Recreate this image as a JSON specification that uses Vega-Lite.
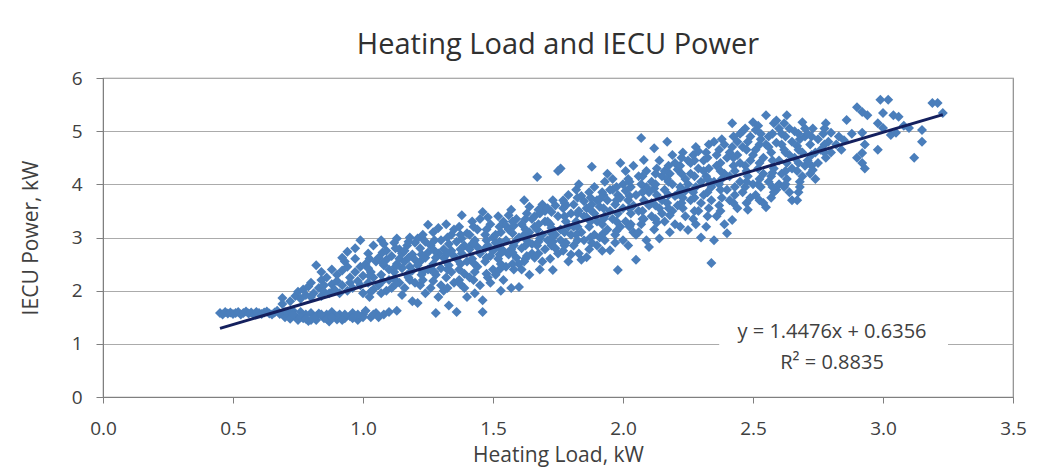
{
  "$schema": "https://vega.github.io/schema/vega-lite/v6.json",
  "autosize": {"type": "none"},
  "width": 910,
  "height": 319,
  "padding": {"left": 103, "top": 78, "right": 24, "bottom": 77},
  "background": "white",
  "config": {
    "font": "Open Sans",
    "view": {"stroke": "#8c8c8c", "strokeWidth": 1.2},
    "axis": {
      "labelFont": "Open Sans",
      "titleFont": "Open Sans",
      "labelFontSize": 19,
      "titleFontSize": 21,
      "labelColor": "#404040",
      "titleColor": "#404040",
      "titleFontWeight": "normal",
      "domainColor": "#7f7f7f",
      "tickColor": "#7f7f7f",
      "gridColor": "#ababab",
      "gridOpacity": 1,
      "labelFlush": false,
      "zindex": 0
    }
  },
  "title": {
    "text": "Heating Load and IECU Power",
    "fontSize": 29,
    "fontWeight": "normal",
    "color": "#303030",
    "font": "Open Sans",
    "anchor": "middle",
    "offset": 9
  },
  "layer": [
    {
      "data": {"values": [
{"x":0.45,"y":1.58},{"x":0.46,"y":1.55},{"x":0.47,"y":1.60},{"x":0.48,"y":1.57},{"x":0.49,"y":1.59},{"x":0.50,"y":1.56},
{"x":0.51,"y":1.58},{"x":0.52,"y":1.60},{"x":0.53,"y":1.55},{"x":0.54,"y":1.58},{"x":0.55,"y":1.61},
{"x":0.56,"y":1.57},{"x":0.57,"y":1.59},{"x":0.58,"y":1.55},{"x":0.59,"y":1.60},{"x":0.60,"y":1.58},
{"x":0.61,"y":1.56},{"x":0.62,"y":1.59},{"x":0.63,"y":1.61},{"x":0.64,"y":1.57},{"x":0.65,"y":1.55},
{"x":0.66,"y":1.59},{"x":0.67,"y":1.62},{"x":0.68,"y":1.56},{"x":0.69,"y":1.86},{"x":0.70,"y":1.60},{"x":0.70,"y":1.50},{"x":0.69,"y":1.75},
{"x":0.71,"y":1.58},{"x":0.72,"y":1.47},{"x":0.72,"y":1.80},{"x":0.73,"y":1.62},{"x":0.74,"y":1.52},{"x":0.74,"y":1.90},{"x":0.75,"y":1.45},{"x":0.75,"y":1.98},{"x":0.73,"y":1.55},
{"x":0.76,"y":1.60},{"x":0.76,"y":1.85},{"x":0.77,"y":1.48},{"x":0.77,"y":2.02},{"x":0.78,"y":1.55},{"x":0.78,"y":1.92},{"x":0.79,"y":1.43},{"x":0.79,"y":2.08},{"x":0.80,"y":1.58},{"x":0.80,"y":1.88},{"x":0.80,"y":2.15},
{"x":0.81,"y":1.50},{"x":0.81,"y":1.95},{"x":0.82,"y":2.48},{"x":0.82,"y":1.45},{"x":0.83,"y":2.05},{"x":0.83,"y":1.57},{"x":0.84,"y":1.90},{"x":0.84,"y":2.20},{"x":0.85,"y":1.48},{"x":0.85,"y":2.10},{"x":0.85,"y":1.98},{"x":0.84,"y":2.35},
{"x":0.86,"y":1.55},{"x":0.86,"y":2.25},{"x":0.87,"y":1.95},{"x":0.87,"y":1.42},{"x":0.88,"y":2.12},{"x":0.88,"y":2.40},{"x":0.89,"y":1.52},{"x":0.89,"y":2.02},{"x":0.90,"y":2.30},{"x":0.90,"y":1.46},{"x":0.90,"y":2.18},{"x":0.88,"y":1.60},
{"x":0.91,"y":1.95},{"x":0.91,"y":1.55},{"x":0.92,"y":2.38},{"x":0.92,"y":2.10},{"x":0.93,"y":1.48},{"x":0.93,"y":2.55},{"x":0.94,"y":2.73},{"x":0.94,"y":2.00},{"x":0.95,"y":2.25},{"x":0.95,"y":1.52},{"x":0.92,"y":2.62},{"x":0.94,"y":2.45},{"x":0.95,"y":2.15},
{"x":0.96,"y":1.58},{"x":0.96,"y":2.05},{"x":0.97,"y":2.35},{"x":0.97,"y":2.60},{"x":0.98,"y":1.45},{"x":0.98,"y":2.18},{"x":0.99,"y":2.95},{"x":0.99,"y":2.45},{"x":1.00,"y":1.95},{"x":1.00,"y":2.28},{"x":1.00,"y":1.55},{"x":0.97,"y":2.80},{"x":0.99,"y":2.10},
{"x":1.01,"y":2.50},{"x":1.01,"y":1.62},{"x":1.02,"y":2.15},{"x":1.02,"y":2.70},{"x":1.03,"y":1.50},{"x":1.03,"y":2.35},{"x":1.04,"y":2.02},{"x":1.04,"y":2.85},{"x":1.05,"y":2.55},{"x":1.05,"y":1.58},{"x":1.02,"y":2.42},{"x":1.04,"y":2.25},{"x":1.03,"y":1.98},
{"x":1.06,"y":2.10},{"x":1.06,"y":2.62},{"x":1.07,"y":2.95},{"x":1.07,"y":2.30},{"x":1.08,"y":1.55},{"x":1.08,"y":2.48},{"x":1.09,"y":2.00},{"x":1.09,"y":2.75},{"x":1.10,"y":2.40},{"x":1.10,"y":1.60},{"x":1.10,"y":2.20},{"x":1.08,"y":2.88},{"x":1.07,"y":1.95},{"x":1.09,"y":2.58},
{"x":1.11,"y":2.65},{"x":1.11,"y":2.05},{"x":1.12,"y":2.35},{"x":1.12,"y":2.90},{"x":1.13,"y":1.62},{"x":1.13,"y":2.50},{"x":1.14,"y":2.15},{"x":1.14,"y":2.78},{"x":1.15,"y":2.42},{"x":1.15,"y":1.92},{"x":1.12,"y":2.22},{"x":1.14,"y":2.60},{"x":1.13,"y":2.98},{"x":1.15,"y":2.70},
{"x":1.16,"y":2.55},{"x":1.16,"y":2.05},{"x":1.17,"y":2.85},{"x":1.17,"y":2.30},{"x":1.18,"y":3.00},{"x":1.18,"y":2.45},{"x":1.19,"y":1.80},{"x":1.19,"y":2.68},{"x":1.20,"y":2.15},{"x":1.20,"y":2.90},{"x":1.18,"y":2.20},{"x":1.16,"y":2.75},{"x":1.19,"y":2.38},{"x":1.20,"y":2.58},
{"x":1.21,"y":1.77},{"x":1.21,"y":2.48},{"x":1.22,"y":2.80},{"x":1.22,"y":2.10},{"x":1.23,"y":3.05},{"x":1.23,"y":2.35},{"x":1.24,"y":2.62},{"x":1.24,"y":1.95},{"x":1.25,"y":3.24},{"x":1.25,"y":2.72},{"x":1.22,"y":2.55},{"x":1.24,"y":2.92},{"x":1.23,"y":2.20},{"x":1.25,"y":2.40},{"x":1.21,"y":2.98},
{"x":1.26,"y":2.05},{"x":1.26,"y":2.85},{"x":1.27,"y":2.50},{"x":1.27,"y":3.10},{"x":1.28,"y":1.58},{"x":1.28,"y":2.30},{"x":1.29,"y":2.70},{"x":1.29,"y":1.88},{"x":1.30,"y":2.95},{"x":1.30,"y":2.42},{"x":1.27,"y":2.18},{"x":1.28,"y":2.62},{"x":1.29,"y":3.18},{"x":1.30,"y":2.10},{"x":1.26,"y":2.40},
{"x":1.31,"y":2.78},{"x":1.31,"y":2.00},{"x":1.32,"y":3.25},{"x":1.32,"y":2.55},{"x":1.33,"y":1.72},{"x":1.33,"y":2.88},{"x":1.34,"y":2.35},{"x":1.34,"y":3.05},{"x":1.35,"y":2.65},{"x":1.35,"y":2.15},{"x":1.32,"y":2.25},{"x":1.33,"y":2.48},{"x":1.34,"y":2.75},{"x":1.35,"y":3.15},{"x":1.31,"y":2.62},
{"x":1.36,"y":1.60},{"x":1.36,"y":2.92},{"x":1.37,"y":2.40},{"x":1.37,"y":3.20},{"x":1.38,"y":3.42},{"x":1.38,"y":2.70},{"x":1.39,"y":2.05},{"x":1.39,"y":2.85},{"x":1.40,"y":2.55},{"x":1.40,"y":3.08},{"x":1.37,"y":2.20},{"x":1.38,"y":2.98},{"x":1.39,"y":2.32},{"x":1.40,"y":1.88},{"x":1.36,"y":2.60},
{"x":1.41,"y":2.78},{"x":1.41,"y":2.25},{"x":1.42,"y":3.30},{"x":1.42,"y":2.60},{"x":1.43,"y":1.95},{"x":1.43,"y":2.95},{"x":1.44,"y":2.45},{"x":1.44,"y":3.15},{"x":1.45,"y":2.70},{"x":1.45,"y":2.10},{"x":1.42,"y":2.88},{"x":1.43,"y":2.35},{"x":1.44,"y":2.82},{"x":1.45,"y":3.35},{"x":1.41,"y":3.05},
{"x":1.46,"y":1.60},{"x":1.46,"y":1.82},{"x":1.46,"y":3.48},{"x":1.47,"y":2.55},{"x":1.47,"y":3.05},{"x":1.48,"y":2.25},{"x":1.48,"y":2.85},{"x":1.49,"y":3.25},{"x":1.49,"y":2.65},{"x":1.50,"y":2.40},{"x":1.50,"y":3.00},{"x":1.47,"y":2.80},{"x":1.48,"y":3.38},{"x":1.49,"y":2.15},{"x":1.50,"y":2.75},
{"x":1.51,"y":2.90},{"x":1.51,"y":2.30},{"x":1.52,"y":3.40},{"x":1.52,"y":2.60},{"x":1.53,"y":2.00},{"x":1.53,"y":3.10},{"x":1.54,"y":2.75},{"x":1.54,"y":3.30},{"x":1.55,"y":2.45},{"x":1.55,"y":2.95},{"x":1.52,"y":2.82},{"x":1.53,"y":2.50},{"x":1.54,"y":2.20},{"x":1.55,"y":3.22},{"x":1.51,"y":3.05},
{"x":1.56,"y":2.68},{"x":1.56,"y":3.15},{"x":1.57,"y":3.52},{"x":1.57,"y":2.05},{"x":1.58,"y":2.85},{"x":1.58,"y":2.40},{"x":1.59,"y":3.35},{"x":1.59,"y":2.62},{"x":1.60,"y":2.07},{"x":1.60,"y":3.00},{"x":1.57,"y":2.78},{"x":1.58,"y":3.22},{"x":1.59,"y":2.95},{"x":1.60,"y":2.50},{"x":1.56,"y":3.42},
{"x":1.61,"y":2.80},{"x":1.61,"y":3.25},{"x":1.62,"y":3.70},{"x":1.62,"y":2.55},{"x":1.63,"y":2.95},{"x":1.63,"y":3.45},{"x":1.64,"y":2.30},{"x":1.64,"y":3.10},{"x":1.65,"y":2.70},{"x":1.65,"y":3.35},{"x":1.62,"y":3.05},{"x":1.63,"y":2.65},{"x":1.64,"y":3.58},{"x":1.65,"y":2.88},{"x":1.61,"y":2.40},
{"x":1.66,"y":3.20},{"x":1.66,"y":2.62},{"x":1.67,"y":4.14},{"x":1.67,"y":2.85},{"x":1.68,"y":3.45},{"x":1.68,"y":2.40},{"x":1.69,"y":3.05},{"x":1.69,"y":3.62},{"x":1.70,"y":2.78},{"x":1.70,"y":3.30},{"x":1.67,"y":3.15},{"x":1.68,"y":2.98},{"x":1.69,"y":2.55},{"x":1.70,"y":3.50},{"x":1.66,"y":3.40},
{"x":1.71,"y":2.95},{"x":1.71,"y":3.55},{"x":1.72,"y":2.60},{"x":1.72,"y":3.25},{"x":1.73,"y":2.39},{"x":1.73,"y":3.70},{"x":1.74,"y":3.05},{"x":1.74,"y":2.80},{"x":1.75,"y":3.40},{"x":1.75,"y":4.25},{"x":1.72,"y":3.10},{"x":1.73,"y":2.92},{"x":1.74,"y":3.60},{"x":1.75,"y":2.70},{"x":1.71,"y":3.30},
{"x":1.76,"y":4.30},{"x":1.76,"y":3.15},{"x":1.77,"y":2.75},{"x":1.77,"y":3.55},{"x":1.78,"y":3.30},{"x":1.78,"y":2.90},{"x":1.79,"y":3.80},{"x":1.79,"y":2.55},{"x":1.80,"y":3.45},{"x":1.80,"y":3.05},{"x":1.77,"y":3.70},{"x":1.78,"y":3.60},{"x":1.79,"y":3.20},{"x":1.80,"y":2.68},{"x":1.76,"y":2.95},
{"x":1.81,"y":3.62},{"x":1.81,"y":2.85},{"x":1.82,"y":3.30},{"x":1.82,"y":3.90},{"x":1.83,"y":2.70},{"x":1.83,"y":3.50},{"x":1.84,"y":3.10},{"x":1.84,"y":3.78},{"x":1.85,"y":2.95},{"x":1.85,"y":3.40},{"x":1.82,"y":3.05},{"x":1.83,"y":4.00},{"x":1.84,"y":2.58},{"x":1.85,"y":3.68},{"x":1.81,"y":3.20},
{"x":1.86,"y":2.63},{"x":1.86,"y":3.55},{"x":1.87,"y":3.20},{"x":1.87,"y":3.85},{"x":1.88,"y":4.33},{"x":1.88,"y":2.90},{"x":1.89,"y":3.45},{"x":1.89,"y":3.05},{"x":1.90,"y":3.70},{"x":1.90,"y":3.30},{"x":1.87,"y":2.78},{"x":1.88,"y":3.62},{"x":1.89,"y":3.95},{"x":1.90,"y":2.85},{"x":1.86,"y":3.38},
{"x":1.91,"y":3.58},{"x":1.91,"y":3.00},{"x":1.92,"y":3.85},{"x":1.92,"y":2.75},{"x":1.93,"y":3.40},{"x":1.93,"y":4.05},{"x":1.94,"y":3.15},{"x":1.94,"y":3.70},{"x":1.95,"y":2.76},{"x":1.95,"y":3.50},{"x":1.92,"y":3.25},{"x":1.93,"y":2.95},{"x":1.94,"y":4.20},{"x":1.95,"y":3.90},{"x":1.91,"y":3.72},
{"x":1.96,"y":3.35},{"x":1.96,"y":4.10},{"x":1.97,"y":2.90},{"x":1.97,"y":3.62},{"x":1.98,"y":2.39},{"x":1.98,"y":3.80},{"x":1.99,"y":4.40},{"x":1.99,"y":3.20},{"x":2.00,"y":3.55},{"x":2.00,"y":4.00},{"x":1.97,"y":3.05},{"x":1.98,"y":3.45},{"x":1.99,"y":3.75},{"x":2.00,"y":2.95},{"x":1.96,"y":3.90},
{"x":2.01,"y":3.30},{"x":2.01,"y":4.25},{"x":2.02,"y":3.70},{"x":2.02,"y":2.85},{"x":2.03,"y":3.95},{"x":2.03,"y":3.45},{"x":2.04,"y":3.10},{"x":2.04,"y":4.35},{"x":2.05,"y":2.58},{"x":2.05,"y":3.80},{"x":2.02,"y":4.10},{"x":2.03,"y":3.25},{"x":2.04,"y":3.60},{"x":2.05,"y":3.05},{"x":2.01,"y":3.88},
{"x":2.06,"y":3.50},{"x":2.06,"y":4.15},{"x":2.07,"y":4.87},{"x":2.07,"y":3.25},{"x":2.08,"y":4.46},{"x":2.08,"y":3.70},{"x":2.09,"y":2.95},{"x":2.09,"y":3.95},{"x":2.10,"y":2.82},{"x":2.10,"y":3.60},{"x":2.07,"y":4.00},{"x":2.08,"y":3.35},{"x":2.09,"y":4.25},{"x":2.10,"y":3.85},{"x":2.06,"y":3.10},
{"x":2.11,"y":3.40},{"x":2.11,"y":4.05},{"x":2.12,"y":4.68},{"x":2.12,"y":3.15},{"x":2.13,"y":3.80},{"x":2.13,"y":4.30},{"x":2.14,"y":3.55},{"x":2.14,"y":2.98},{"x":2.15,"y":4.15},{"x":2.15,"y":3.70},{"x":2.12,"y":3.92},{"x":2.13,"y":3.28},{"x":2.14,"y":4.45},{"x":2.15,"y":3.45},{"x":2.11,"y":3.65},
{"x":2.16,"y":3.90},{"x":2.16,"y":3.30},{"x":2.17,"y":4.80},{"x":2.17,"y":3.65},{"x":2.18,"y":4.20},{"x":2.18,"y":3.10},{"x":2.19,"y":4.00},{"x":2.19,"y":3.50},{"x":2.20,"y":4.40},{"x":2.20,"y":3.78},{"x":2.17,"y":4.10},{"x":2.18,"y":3.42},{"x":2.19,"y":4.55},{"x":2.20,"y":3.25},{"x":2.16,"y":4.25},
{"x":2.21,"y":3.60},{"x":2.21,"y":4.28},{"x":2.22,"y":3.95},{"x":2.22,"y":3.20},{"x":2.23,"y":4.60},{"x":2.23,"y":3.75},{"x":2.24,"y":4.10},{"x":2.24,"y":3.40},{"x":2.25,"y":3.14},{"x":2.25,"y":4.45},{"x":2.22,"y":4.35},{"x":2.23,"y":3.55},{"x":2.24,"y":3.88},{"x":2.25,"y":4.00},{"x":2.21,"y":3.82},
{"x":2.26,"y":3.70},{"x":2.26,"y":4.20},{"x":2.27,"y":3.35},{"x":2.27,"y":4.55},{"x":2.28,"y":3.95},{"x":2.28,"y":4.70},{"x":2.29,"y":3.50},{"x":2.29,"y":4.30},{"x":2.30,"y":3.00},{"x":2.30,"y":4.05},{"x":2.27,"y":3.85},{"x":2.28,"y":3.25},{"x":2.29,"y":4.62},{"x":2.30,"y":3.65},{"x":2.26,"y":4.40},
{"x":2.31,"y":3.80},{"x":2.31,"y":4.45},{"x":2.32,"y":3.20},{"x":2.32,"y":4.15},{"x":2.33,"y":4.75},{"x":2.33,"y":3.55},{"x":2.34,"y":2.52},{"x":2.34,"y":3.95},{"x":2.35,"y":2.95},{"x":2.35,"y":4.80},{"x":2.32,"y":4.60},{"x":2.33,"y":4.30},{"x":2.34,"y":3.70},{"x":2.35,"y":4.05},{"x":2.31,"y":4.25},
{"x":2.36,"y":3.40},{"x":2.36,"y":4.35},{"x":2.37,"y":4.00},{"x":2.37,"y":4.65},{"x":2.38,"y":3.75},{"x":2.38,"y":4.85},{"x":2.39,"y":3.25},{"x":2.39,"y":4.20},{"x":2.40,"y":3.08},{"x":2.40,"y":4.50},{"x":2.37,"y":3.60},{"x":2.38,"y":4.10},{"x":2.39,"y":4.75},{"x":2.40,"y":3.90},{"x":2.36,"y":4.55},
{"x":2.41,"y":3.70},{"x":2.41,"y":4.60},{"x":2.42,"y":3.33},{"x":2.42,"y":5.15},{"x":2.43,"y":4.25},{"x":2.43,"y":3.95},{"x":2.44,"y":4.80},{"x":2.44,"y":3.55},{"x":2.45,"y":4.40},{"x":2.45,"y":4.05},{"x":2.42,"y":4.70},{"x":2.43,"y":3.80},{"x":2.44,"y":4.55},{"x":2.45,"y":4.95},{"x":2.41,"y":4.15},
{"x":2.46,"y":3.85},{"x":2.46,"y":4.70},{"x":2.47,"y":4.35},{"x":2.47,"y":5.05},{"x":2.48,"y":3.52},{"x":2.48,"y":4.15},{"x":2.49,"y":4.90},{"x":2.49,"y":3.75},{"x":2.50,"y":5.17},{"x":2.50,"y":4.55},{"x":2.47,"y":3.95},{"x":2.48,"y":4.80},{"x":2.49,"y":4.45},{"x":2.50,"y":4.00},{"x":2.46,"y":5.00},
{"x":2.51,"y":3.80},{"x":2.51,"y":4.65},{"x":2.52,"y":4.30},{"x":2.52,"y":5.10},{"x":2.53,"y":3.95},{"x":2.53,"y":4.85},{"x":2.54,"y":3.65},{"x":2.54,"y":4.50},{"x":2.55,"y":5.30},{"x":2.55,"y":3.57},{"x":2.52,"y":4.00},{"x":2.53,"y":4.95},{"x":2.54,"y":4.20},{"x":2.55,"y":4.75},{"x":2.51,"y":5.02},
{"x":2.56,"y":4.05},{"x":2.56,"y":4.90},{"x":2.57,"y":3.75},{"x":2.57,"y":4.60},{"x":2.58,"y":5.15},{"x":2.58,"y":4.30},{"x":2.59,"y":3.90},{"x":2.59,"y":4.78},{"x":2.60,"y":4.45},{"x":2.60,"y":5.05},{"x":2.57,"y":4.15},{"x":2.58,"y":3.85},{"x":2.59,"y":5.20},{"x":2.60,"y":4.00},{"x":2.56,"y":4.70},
{"x":2.61,"y":4.20},{"x":2.61,"y":4.95},{"x":2.62,"y":3.95},{"x":2.62,"y":4.65},{"x":2.63,"y":5.30},{"x":2.63,"y":4.40},{"x":2.64,"y":3.85},{"x":2.64,"y":5.05},{"x":2.65,"y":3.70},{"x":2.65,"y":4.80},{"x":2.62,"y":5.15},{"x":2.63,"y":4.10},{"x":2.64,"y":4.55},{"x":2.65,"y":4.30},{"x":2.61,"y":4.75},
{"x":2.66,"y":4.50},{"x":2.66,"y":5.00},{"x":2.67,"y":3.70},{"x":2.67,"y":4.25},{"x":2.68,"y":4.85},{"x":2.68,"y":4.05},{"x":2.69,"y":5.17},{"x":2.69,"y":4.60},{"x":2.70,"y":4.35},{"x":2.70,"y":4.90},{"x":2.67,"y":4.72},{"x":2.68,"y":3.95},{"x":2.69,"y":4.15},{"x":2.70,"y":5.05},
{"x":2.71,"y":4.45},{"x":2.71,"y":4.95},{"x":2.72,"y":4.20},{"x":2.72,"y":4.75},{"x":2.73,"y":4.27},{"x":2.73,"y":5.05},{"x":2.74,"y":4.60},{"x":2.74,"y":4.10},{"x":2.75,"y":4.85},{"x":2.75,"y":4.40},
{"x":2.76,"y":4.65},{"x":2.77,"y":4.95},{"x":2.78,"y":5.15},{"x":2.78,"y":4.50},{"x":2.79,"y":4.80},{"x":2.80,"y":4.97},{"x":2.80,"y":4.60},
{"x":2.82,"y":4.75},{"x":2.83,"y":4.90},{"x":2.85,"y":4.83},{"x":2.84,"y":4.65},
{"x":2.86,"y":5.21},{"x":2.88,"y":4.95},{"x":2.90,"y":5.45},{"x":2.90,"y":4.50},
{"x":2.92,"y":5.36},{"x":2.92,"y":4.97},{"x":2.92,"y":4.59},{"x":2.92,"y":4.40},{"x":2.93,"y":4.30},{"x":2.94,"y":5.30},{"x":2.93,"y":4.75},
{"x":2.98,"y":5.15},{"x":2.98,"y":4.65},{"x":2.99,"y":5.59},{"x":3.00,"y":5.34},{"x":3.00,"y":5.06},
{"x":3.02,"y":5.59},{"x":3.03,"y":4.93},{"x":3.04,"y":5.30},{"x":3.05,"y":4.97},
{"x":3.06,"y":5.27},{"x":3.08,"y":5.10},{"x":3.10,"y":5.06},
{"x":3.12,"y":4.50},{"x":3.15,"y":5.02},{"x":3.15,"y":4.80},{"x":3.19,"y":5.53},{"x":3.21,"y":5.53},{"x":3.23,"y":5.34},
{"x":0.76,"y":1.50},{"x":0.78,"y":1.47},{"x":0.82,"y":1.52},{"x":0.86,"y":1.47},{"x":0.90,"y":1.52},{"x":0.93,"y":1.55},{"x":0.96,"y":1.48},{"x":1.00,"y":1.50},{"x":1.04,"y":1.55},{"x":1.06,"y":1.50},{"x":0.80,"y":1.45},{"x":0.84,"y":1.55},{"x":0.88,"y":1.50},{"x":0.92,"y":1.45},{"x":0.98,"y":1.55},
{"x":1.025,"y":2.60},{"x":1.025,"y":2.28},{"x":1.025,"y":1.88},
{"x":1.075,"y":2.72},{"x":1.075,"y":2.18},{"x":1.075,"y":2.52},
{"x":1.125,"y":2.80},{"x":1.125,"y":2.45},{"x":1.125,"y":2.12},
{"x":1.175,"y":2.92},{"x":1.175,"y":2.62},{"x":1.175,"y":2.25},
{"x":1.225,"y":2.68},{"x":1.225,"y":2.30},{"x":1.225,"y":3.00},
{"x":1.275,"y":2.95},{"x":1.275,"y":2.75},{"x":1.275,"y":2.35},
{"x":1.325,"y":3.00},{"x":1.325,"y":2.70},{"x":1.325,"y":2.40},{"x":1.325,"y":2.05},
{"x":1.375,"y":3.05},{"x":1.375,"y":2.78},{"x":1.375,"y":2.50},{"x":1.375,"y":2.12},
{"x":1.425,"y":3.20},{"x":1.425,"y":2.90},{"x":1.425,"y":2.52},{"x":1.425,"y":2.20},
{"x":1.475,"y":3.15},{"x":1.475,"y":2.95},{"x":1.475,"y":2.62},{"x":1.475,"y":2.32},
{"x":1.525,"y":3.20},{"x":1.525,"y":2.92},{"x":1.525,"y":2.68},{"x":1.525,"y":2.40},
{"x":1.575,"y":3.30},{"x":1.575,"y":3.08},{"x":1.575,"y":2.72},{"x":1.575,"y":2.50},
{"x":1.625,"y":3.35},{"x":1.625,"y":3.15},{"x":1.625,"y":2.85},{"x":1.625,"y":2.60},
{"x":1.675,"y":3.52},{"x":1.675,"y":3.25},{"x":1.675,"y":2.92},{"x":1.675,"y":2.70},
{"x":1.725,"y":3.48},{"x":1.725,"y":3.18},{"x":1.725,"y":2.98},{"x":1.725,"y":2.85},
{"x":1.775,"y":3.65},{"x":1.775,"y":3.40},{"x":1.775,"y":3.10},{"x":1.775,"y":2.85},
{"x":1.825,"y":3.75},{"x":1.825,"y":3.45},{"x":1.825,"y":3.20},{"x":1.825,"y":2.95},
{"x":1.875,"y":3.75},{"x":1.875,"y":3.52},{"x":1.875,"y":3.30},{"x":1.875,"y":3.00},
{"x":1.925,"y":3.80},{"x":1.925,"y":3.55},{"x":1.925,"y":3.35},{"x":1.925,"y":3.08},
{"x":1.975,"y":3.95},{"x":1.975,"y":3.70},{"x":1.975,"y":3.30},{"x":1.975,"y":3.12},
{"x":2.025,"y":4.05},{"x":2.025,"y":3.78},{"x":2.025,"y":3.55},{"x":2.025,"y":3.20},
{"x":2.075,"y":4.15},{"x":2.075,"y":3.85},{"x":2.075,"y":3.50},{"x":2.075,"y":3.35},
{"x":2.125,"y":4.20},{"x":2.125,"y":4.00},{"x":2.125,"y":3.60},{"x":2.125,"y":3.35},
{"x":2.175,"y":4.35},{"x":2.175,"y":4.05},{"x":2.175,"y":3.80},{"x":2.175,"y":3.55},
{"x":2.225,"y":4.50},{"x":2.225,"y":4.20},{"x":2.225,"y":3.90},{"x":2.225,"y":3.65},
{"x":2.275,"y":4.45},{"x":2.275,"y":4.15},{"x":2.275,"y":3.75},{"x":2.275,"y":3.50},
{"x":2.325,"y":4.50},{"x":2.325,"y":4.10},{"x":2.325,"y":3.85},{"x":2.325,"y":3.40},
{"x":2.375,"y":4.40},{"x":2.375,"y":4.25},{"x":2.375,"y":3.90},{"x":2.375,"y":3.50},
{"x":2.425,"y":4.90},{"x":2.425,"y":4.50},{"x":2.425,"y":4.35},{"x":2.425,"y":3.65},
{"x":2.475,"y":4.65},{"x":2.475,"y":4.25},{"x":2.475,"y":4.05},{"x":2.475,"y":3.65},
{"x":2.525,"y":4.75},{"x":2.525,"y":4.40},{"x":2.525,"y":4.10},{"x":2.525,"y":3.70},
{"x":2.575,"y":4.95},{"x":2.575,"y":4.45},{"x":2.575,"y":4.22},{"x":2.575,"y":3.95},
{"x":2.625,"y":4.90},{"x":2.625,"y":4.60},{"x":2.625,"y":4.25},{"x":2.625,"y":4.00},
{"x":2.675,"y":4.95},{"x":2.675,"y":4.65},{"x":2.675,"y":4.40},{"x":2.675,"y":3.85},
{"x":2.725,"y":4.90},{"x":2.725,"y":4.55},{"x":2.725,"y":4.35},
{"x":2.775,"y":4.75},{"x":2.775,"y":4.60},{"x":2.775,"y":5.05}
      ]},
      "mark": {"type": "point", "shape": "diamond", "filled": true, "size": 100, "color": "#4a7ebb", "opacity": 1},
      "encoding": {
        "x": {"field": "x", "type": "quantitative", "scale": {"domain": [0, 3.5]},
              "axis": {"title": "Heating Load, kW", "values": [0, 0.5, 1, 1.5, 2, 2.5, 3, 3.5], "format": ".1f", "grid": false, "ticks": true, "tickSize": 6, "labelPadding": 16, "titlePadding": 6}},
        "y": {"field": "y", "type": "quantitative", "scale": {"domain": [0, 6]},
              "axis": {"title": "IECU Power, kW", "values": [0, 1, 2, 3, 4, 5, 6], "format": "d", "grid": true, "ticks": true, "tickSize": 7, "labelPadding": 14, "titlePadding": 30}}
      }
    },
    {
      "data": {"values": [{"x": 0.45, "y": 1.29}, {"x": 3.23, "y": 5.31}]},
      "mark": {"type": "line", "color": "#14205e", "strokeWidth": 3},
      "encoding": {
        "x": {"field": "x", "type": "quantitative"},
        "y": {"field": "y", "type": "quantitative"}
      }
    },
    {
      "data": {"values": [{"label": "box"}]},
      "mark": {"type": "rect", "color": "white"},
      "encoding": {
        "x": {"datum": 2.37, "type": "quantitative"},
        "x2": {"datum": 3.25},
        "y": {"datum": 0.9, "type": "quantitative"},
        "y2": {"datum": 1.1}
      }
    },
    {
      "data": {"values": [{"label": "y = 1.4476x + 0.6356"}]},
      "mark": {"type": "text", "fontSize": 20, "color": "#404040", "font": "Open Sans", "align": "center", "baseline": "middle"},
      "encoding": {
        "x": {"datum": 2.804, "type": "quantitative"},
        "y": {"datum": 1.22, "type": "quantitative"},
        "text": {"field": "label"}
      }
    },
    {
      "data": {"values": [{"label": "R² = 0.8835"}]},
      "mark": {"type": "text", "fontSize": 20, "color": "#404040", "font": "Open Sans", "align": "center", "baseline": "middle"},
      "encoding": {
        "x": {"datum": 2.804, "type": "quantitative"},
        "y": {"datum": 0.64, "type": "quantitative"},
        "text": {"field": "label"}
      }
    }
  ]
}
